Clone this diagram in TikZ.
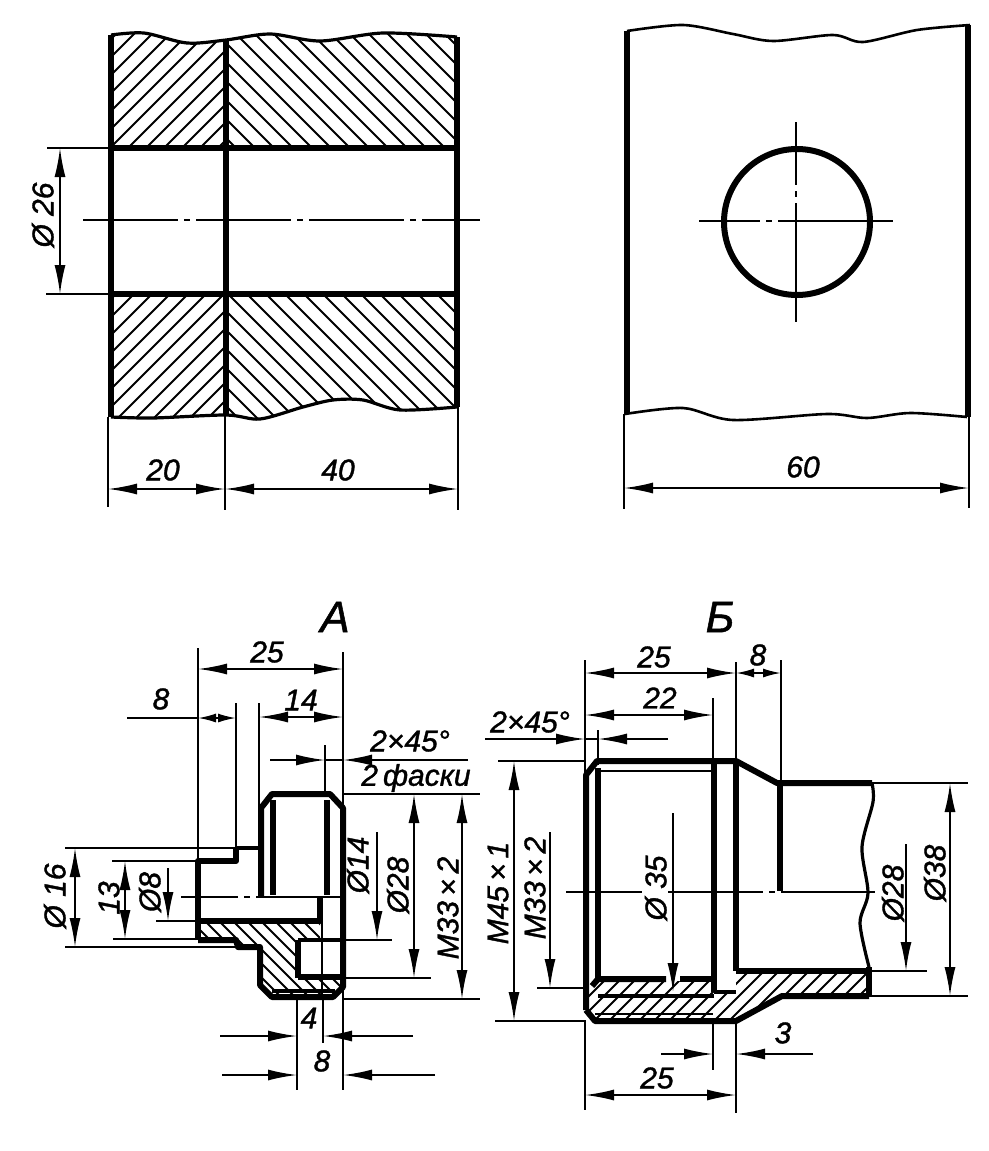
\documentclass[tikz,border=0pt]{standalone}
\usepackage{fontspec}
\setmainfont{Liberation Sans}[ItalicFeatures={FakeBold=1.2}]
\usetikzlibrary{arrows.meta}
\tikzset{
	thinline/.style={line width=1.9pt},
	wavyline/.style={line width=2.6pt},
	midline/.style={line width=3.2pt},
	contour/.style={line width=6pt, line join=round},
	hatchline/.style={line width=1.9pt},
	axisline/.style={line width=1.9pt, dash pattern=on 95pt off 6pt on 6pt off 6pt},
	dimboth/.style={thinline, {Latex[length=29pt,width=11pt]}-{Latex[length=29pt,width=11pt]}},
	dimend/.style={thinline, -{Latex[length=29pt,width=11pt]}},
	dimshort/.style={thinline, {Latex[length=18pt,width=9pt]}-{Latex[length=18pt,width=9pt]}},
	dimtext/.style={font=\fontsize{30}{30}\selectfont\itshape, inner sep=0pt},
	titletext/.style={font=\fontsize{44}{44}\selectfont\itshape, inner sep=0pt},
}
\newcommand{\hatchup}[4]{\begin{scope}\clip #1;\foreach \d in {#2,#3,...,#4} \draw[hatchline] (\d,0) -- (\d-1200,1200);\end{scope}}
\newcommand{\hatchdown}[4]{\begin{scope}\clip #1;\foreach \d in {#2,#3,...,#4} \draw[hatchline] (\d,0) -- (\d+1200,1200);\end{scope}}
\begin{document}
\begin{tikzpicture}[x=1pt, y=-1pt]
	\useasboundingbox (0,0) rectangle (988,1151);
	% section view
	\hatchup{plot[smooth] coordinates {(111,35) (144,33) (187,43) (226,40)} -- (226,148) -- (111,148) -- cycle}{150}{168}{380}
	\hatchup{plot[smooth] coordinates {(111,417) (153,418) (226,415)} -- (226,294) -- (111,294) -- cycle}{410}{428}{660}
	\hatchdown{plot[smooth] coordinates {(226,40) (270,34) (320,41) (383,33) (457,37)} -- (457,148) -- (226,148) -- cycle}{50}{69}{430}
	\hatchdown{plot[smooth] coordinates {(226,415) (260,419) (303,407) (333,400) (363,400) (400,410) (457,407)} -- (457,294) -- (226,294) -- cycle}{-180}{-161}{170}
	\draw[midline] plot[smooth] coordinates {(111,35) (144,33) (187,43) (226,40) (270,34) (320,41) (383,33) (457,37)};
	\draw[midline] plot[smooth] coordinates {(111,417) (153,418) (226,415) (260,419) (303,407) (333,400) (363,400) (400,410) (457,407)};
	\draw[contour] (111,35) -- (111,417);
	\draw[contour] (226,40) -- (226,415);
	\draw[contour] (457,37) -- (457,407);
	\draw[contour] (111,148) -- (457,148);
	\draw[contour] (111,294) -- (457,294);
	\draw[axisline] (83,220) -- (480,220);
	\draw[thinline] (47,148) -- (111,148);
	\draw[thinline] (46,294) -- (111,294);
	\draw[dimboth] (60,148) -- (60,294);
	\node[dimtext, rotate=90] (dia26) at (43,215) {Ø 26};
	\draw[thinline] (108,417) -- (108,507);
	\draw[thinline] (225,415) -- (225,510);
	\draw[thinline] (458,407) -- (458,510);
	\draw[dimboth] (108,489) -- (225,489);
	\draw[dimboth] (225,489) -- (458,489);
	\node[dimtext] (len20) at (163,470) {20};
	\node[dimtext] (len40) at (338,470) {40};
	% plate view
	\draw[contour] (627,31) -- (627,414);
	\draw[contour] (968,25) -- (968,417);
	\draw[wavyline] plot[smooth] coordinates {(627,31) (683,25) (733,34) (773,41) (833,35) (863,42) (917,30) (970,25)};
	\draw[wavyline] plot[smooth] coordinates {(625,414) (683,408) (733,420) (827,414) (867,418) (910,413) (967,417)};
	\draw[line width=6pt] (797,222) circle (73);
	\draw[axisline, dash pattern=on 61pt off 6pt on 6pt off 6pt on 300pt off 1pt] (699,221) -- (893,221);
	\draw[axisline, dash pattern=on 63pt off 6pt on 6pt off 6pt on 300pt off 1pt] (796,122) -- (796,322);
	\draw[thinline] (624,414) -- (624,509);
	\draw[thinline] (969,417) -- (969,508);
	\draw[dimboth] (624,488) -- (969,488);
	\node[dimtext] (len60) at (803,467) {60};
	% detail A
	\node[titletext] (titleA) at (335,617) {А};
	\hatchdown{(202,923) -- (320,923) -- (320,940) -- (298,940) -- (298,978) -- (343,978) -- (343,987) -- (333,997) -- (272,997) -- (260,985) -- (260,947) -- (238,947) -- (236,941) -- (200,941) -- cycle}{-730}{-716}{-520}
	\draw[contour] (198,940) -- (198,861) -- (236,861) -- (236,848);
	\draw[midline] (236,848) -- (260,848);
	\draw[contour] (198,940) -- (236,940) -- (238,947) -- (260,947) -- (260,985) -- (272,997) -- (333,997) -- (343,987) -- (343,808) -- (330,794) -- (272,794) -- (261,808) -- (261,897);
	\draw[contour] (273,800) -- (273,895);
	\draw[contour] (327,800) -- (327,895);
	\draw[contour] (200,921) -- (320,921) -- (320,897);
	\draw[contour] (298,978) -- (298,940);
	\draw[midline] (298,940) -- (343,940);
	\draw[contour] (298,977) -- (343,977);
	\draw[thinline] (322,897) -- (322,997);
	\draw[midline] (272,991) -- (335,991);
	\draw[axisline, dash phase=38pt] (181,897) -- (343,897);
	\draw[thinline] (198,648) -- (198,860);
	\draw[thinline] (343,652) -- (343,1090);
	\draw[dimboth] (198,669) -- (343,669);
	\node[dimtext] (a25) at (267,652) {25};
	\draw[thinline] (236,703) -- (236,848);
	\draw[thinline] (259,703) -- (259,845);
	\draw[thinline] (127,718) -- (198,718);
	\draw[dimshort] (198,718) -- (236,718);
	\node[dimtext] (a8top) at (161,699) {8};
	\draw[dimboth] (259,717) -- (343,717);
	\node[dimtext] (a14) at (301,700) {14};
	\draw[thinline] (325,745) -- (325,795);
	\draw[dimend] (270,760) -- (325,760);
	\draw[dimend] (468,760) -- (343,760);
	\draw[thinline] (325,760) -- (343,760);
	\node[dimtext] (achamfer) at (410,741) {2×45°};
	\node[dimtext] (afaski) at (416,778) {2\,фаски};
	% left dimensions of A
	\draw[thinline] (65,848) -- (236,848);
	\draw[thinline] (65,947) -- (238,947);
	\draw[thinline] (112,861) -- (198,861);
	\draw[thinline] (113,939) -- (198,939);
	\draw[thinline] (156,921) -- (198,921);
	\draw[dimboth] (75,848) -- (75,947);
	\draw[dimboth] (125,861) -- (125,939);
	\draw[dimend] (168,868) -- (168,921);
	\node[dimtext, rotate=90] (a16) at (55,896) {Ø 16};
	\node[dimtext, rotate=90] (a13) at (109,898) {13};
	\node[dimtext, rotate=90] (a8dia) at (150,892) {Ø8};
	% right dimensions of A
	\draw[thinline] (343,794) -- (480,794);
	\draw[thinline] (343,940) -- (392,940);
	\draw[thinline] (343,978) -- (431,978);
	\draw[thinline] (343,999) -- (480,999);
	\draw[dimend] (377,832) -- (377,940);
	\draw[dimboth] (414,794) -- (414,978);
	\draw[dimboth] (462,794) -- (462,999);
	\node[dimtext, rotate=90] (a14dia) at (358,865) {Ø14};
	\node[dimtext, rotate=90] (a28) at (398,885) {Ø28};
	\node[dimtext, rotate=90] (am33) at (448,908) {М33\,×\,2};
	% bottom dimensions of A
	\draw[thinline] (297,997) -- (297,1090);
	\draw[thinline] (323,997) -- (323,1043);
	\draw[dimend] (220,1036) -- (297,1036);
	\draw[dimend] (413,1036) -- (323,1036);
	\draw[dimend] (222,1075) -- (297,1075);
	\draw[dimend] (435,1075) -- (343,1075);
	\node[dimtext] (a4) at (309,1018) {4};
	\node[dimtext] (a8) at (322,1061) {8};
	% detail B
	\node[titletext] (titleB) at (720,617) {Б};
	\hatchup{(590,985) -- (598,981) -- (713,981) -- (713,991) -- (736,991) -- (736,971) -- (869,971) -- (869,996) -- (782,996) -- (736,1021) -- (595,1021) -- (586,1010) -- cycle}{1570}{1585}{1880}
	\draw[contour] (586,1010) -- (586,775) -- (597,761) -- (736,761) -- (777,783) -- (872,783);
	\draw[contour] (586,1010) -- (595,1021) -- (736,1021) -- (782,996) -- (869,996);
	\draw[contour] (598,768) -- (598,980);
	\draw[contour] (714,761) -- (714,992);
	\draw[contour] (736,761) -- (736,971);
	\draw[contour] (780,783) -- (780,891);
	\draw[contour] (592,986) -- (598,979) -- (666,979);
	\draw[contour] (680,979) -- (714,979);
	\draw[contour] (736,971) -- (869,971);
	\draw[midline] (714,992) -- (736,992);
	\draw[thinline] (600,771) -- (713,771);
	\draw[midline] (598,996) -- (714,996);
	\draw[thinline] (595,1014) -- (713,1014);
	\draw[midline] plot[smooth] coordinates {(872,783) (873,802) (862,847) (868,893) (860,923) (869,967)};
	\draw[contour] (869,967) -- (869,996);
	\draw[axisline] (566,892) -- (642,892);
	\draw[axisline] (668,892) -- (875,892);
	% dimensions of B
	\draw[thinline] (585,660) -- (585,775);
	\draw[thinline] (585,1020) -- (585,1110);
	\draw[thinline] (736,662) -- (736,761);
	\draw[thinline] (736,1021) -- (736,1113);
	\draw[thinline] (713,698) -- (713,761);
	\draw[thinline] (713,1021) -- (713,1070);
	\draw[thinline] (781,660) -- (781,783);
	\draw[dimboth] (585,673) -- (736,673);
	\draw[dimshort] (736,673) -- (781,673);
	\node[dimtext] (b25top) at (654,657) {25};
	\node[dimtext] (b8) at (758,655) {8};
	\draw[dimboth] (585,715) -- (713,715);
	\node[dimtext] (b22) at (660,698) {22};
	\draw[thinline] (598,730) -- (598,765);
	\draw[dimend] (485,739) -- (585,739);
	\draw[dimend] (668,739) -- (598,739);
	\draw[thinline] (585,739) -- (598,739);
	\node[dimtext] (bchamfer) at (530,722) {2×45°};
	\draw[thinline] (498,761) -- (585,761);
	\draw[thinline] (495,1021) -- (585,1021);
	\draw[thinline] (537,988) -- (585,988);
	\draw[dimboth] (514,761) -- (514,1021);
	\draw[dimend] (550,832) -- (550,988);
	\draw[dimend] (673,813) -- (673,992);
	\node[dimtext, rotate=90] (bm45) at (498,893) {М45\,×\,1};
	\node[dimtext, rotate=90] (bm33) at (535,888) {М33\,×\,2};
	\node[dimtext, rotate=90] (b35) at (656,888) {Ø 35};
	\draw[thinline] (872,783) -- (968,783);
	\draw[thinline] (868,996) -- (968,996);
	\draw[thinline] (868,971) -- (927,971);
	\draw[dimend] (906,844) -- (906,971);
	\draw[dimboth] (950,783) -- (950,996);
	\node[dimtext, rotate=90] (b28) at (893,893) {Ø28};
	\node[dimtext, rotate=90] (b38) at (935,873) {Ø38};
	\draw[dimend] (661,1054) -- (713,1054);
	\draw[dimend] (813,1054) -- (736,1054);
	\node[dimtext] (b3) at (783,1033) {3};
	\draw[dimboth] (585,1095) -- (736,1095);
	\node[dimtext] (b25) at (657,1078) {25};
\end{tikzpicture}
\end{document}
